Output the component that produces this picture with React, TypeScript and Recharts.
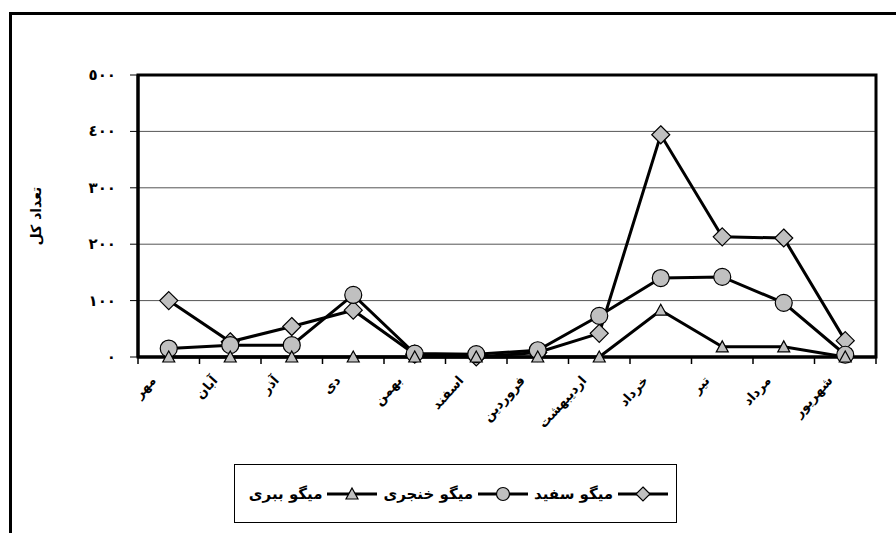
import React from 'react';
import { LineChart, Line, XAxis, YAxis, CartesianGrid, ReferenceArea } from 'recharts';

const months = ['مهر', 'آبان', 'آذر', 'دی', 'بهمن', 'اسفند', 'فروردین', 'اردیبهشت', 'خرداد', 'تیر', 'مرداد', 'شهریور'];
const whiteShrimp = [100, 27, 54, 83, 5, 0, 8, 42, 394, 213, 211, 29];
const khanjariShrimp = [15, 21, 21, 110, 6, 5, 12, 73, 140, 142, 96, 4];
const babriShrimp = [0, 0, 0, 0, 0, 0, 0, 0, 83, 18, 18, 0];
const yTicks = [0, 100, 200, 300, 400, 500];
// boundary ticks (integers) draw tick marks, centre ticks (x.5) carry month labels
const xTicks = Array.from({ length: 25 }, (_, i) => i / 2);
const seriesNames = { white: 'میگو سفید', khanjari: 'میگو خنجری', babri: 'میگو ببری' };

const data = months.map((m, i) => ({
  x: i + 0.5,
  month: m,
  white: whiteShrimp[i],
  khanjari: khanjariShrimp[i],
  babri: babriShrimp[i],
}));

const FONT = '"DejaVu Sans", sans-serif';
const FILL = '#c0c0c0';

const toArabicDigits = (n: number) =>
  String(n).replace(/[0-9]/g, (d) => String.fromCharCode(0x0660 + Number(d)));

const DiamondDot = (props: any) => {
  const { cx, cy, s = 9 } = props;
  if (cx == null || cy == null) return null;
  return (
    <path
      d={`M${cx},${cy - s} L${cx + s},${cy} L${cx},${cy + s} L${cx - s},${cy} Z`}
      fill={FILL}
      stroke="#000"
      strokeWidth={1.2}
    />
  );
};

const CircleDot = (props: any) => {
  const { cx, cy } = props;
  if (cx == null || cy == null) return null;
  return <circle cx={cx} cy={cy} r={8.5} fill={FILL} stroke="#000" strokeWidth={1.2} />;
};

const TriangleDot = (props: any) => {
  const { cx, cy } = props;
  if (cx == null || cy == null) return null;
  const w = 6;
  const h = 10;
  return (
    <path
      d={`M${cx},${cy - h / 2 - 1} L${cx + w},${cy + h / 2} L${cx - w},${cy + h / 2} Z`}
      fill={FILL}
      stroke="#000"
      strokeWidth={1.2}
    />
  );
};

const YTick = (props: any) => {
  const { x, y, payload } = props;
  return (
    <text x={x} y={y} dy={5} textAnchor="end" fontFamily={FONT} fontWeight="bold" fontSize={15} fill="#000">
      {toArabicDigits(payload.value)}
    </text>
  );
};

const XTick = (props: any) => {
  const { x, y, payload } = props;
  const v = Number(payload.value);
  if (Math.abs(v - Math.round(v)) < 1e-6) {
    return (
      <g>
        <line x1={x} y1={y} x2={x} y2={y + 7} stroke="#000" strokeWidth={1.5} />
      </g>
    );
  }
  const idx = Math.floor(v);
  const ax = x - 12;
  const ay = y + 24;
  return (
    <text
      x={ax}
      y={ay}
      transform={`rotate(-48, ${ax}, ${ay})`}
      textAnchor="end"
      fontFamily={FONT}
      fontWeight="bold"
      fontSize={13}
      fill="#000"
    >
      {months[idx]}
    </text>
  );
};

const LegendMarker = ({ kind }: { kind: string }) => (
  <svg width={50} height={20} style={{ display: 'block', flexShrink: 0 }}>
    <line x1={0} y1={10} x2={50} y2={10} stroke="#000" strokeWidth={3} />
    {kind === 'diamond' && <DiamondDot cx={25} cy={10} s={7} />}
    {kind === 'circle' && <circle cx={25} cy={10} r={6.5} fill={FILL} stroke="#000" strokeWidth={1.2} />}
    {kind === 'triangle' && <TriangleDot cx={25} cy={10} />}
  </svg>
);

const legendItems = [
  { name: seriesNames.white, kind: 'diamond' },
  { name: seriesNames.khanjari, kind: 'circle' },
  { name: seriesNames.babri, kind: 'triangle' },
];

export default function App() {
  return (
    <div style={{ position: 'absolute', left: 0, top: 0, width: 896, height: 533, background: '#fff' }}>
      <LineChart width={896} height={533} data={data} margin={{ top: 75, right: 20, bottom: 0, left: 0 }}>
        <CartesianGrid vertical={false} stroke="#555" strokeWidth={1} />
        <XAxis
          type="number"
          dataKey="x"
          domain={[0, 12]}
          ticks={xTicks}
          tick={XTick}
          tickLine={false}
          tickSize={0}
          tickMargin={0}
          interval={0}
          height={176}
          axisLine={{ stroke: '#000', strokeWidth: 3 }}
        />
        <YAxis
          type="number"
          domain={[0, 500]}
          ticks={yTicks}
          width={138}
          tickSize={8}
          tickMargin={14}
          tick={YTick}
          axisLine={{ stroke: '#000', strokeWidth: 3 }}
          tickLine={{ stroke: '#000', strokeWidth: 1 }}
          interval={0}
          label={{
            value: 'تعداد کل',
            angle: -90,
            position: 'insideLeft',
            offset: 36,
            style: { fontFamily: FONT, fontWeight: 'bold', fontSize: 14, fill: '#000', textAnchor: 'middle' },
          }}
        />
        <ReferenceArea x1={0} x2={12} y1={0} y2={500} fill="none" stroke="#000" strokeWidth={3} ifOverflow="visible" />
        <Line dataKey="white" name={seriesNames.white} stroke="#000" strokeWidth={3} dot={DiamondDot} isAnimationActive={false} />
        <Line dataKey="khanjari" name={seriesNames.khanjari} stroke="#000" strokeWidth={3} dot={CircleDot} isAnimationActive={false} />
        <Line dataKey="babri" name={seriesNames.babri} stroke="#000" strokeWidth={3} dot={TriangleDot} isAnimationActive={false} />
      </LineChart>
      <div
        style={{
          position: 'absolute',
          left: 9,
          top: 12,
          width: 884,
          height: 518,
          borderTop: '3px solid #000',
          borderLeft: '3px solid #000',
          pointerEvents: 'none',
        }}
      />
      <div
        style={{
          position: 'absolute',
          left: 234,
          top: 464,
          width: 443,
          height: 59,
          border: '1px solid #000',
          background: '#fff',
          display: 'flex',
          alignItems: 'center',
          justifyContent: 'center',
          direction: 'rtl',
          fontFamily: FONT,
          fontWeight: 'bold',
          fontSize: 15,
          boxSizing: 'border-box',
          whiteSpace: 'nowrap',
        }}
      >
        {legendItems.map((it) => (
          <div key={it.name} style={{ display: 'flex', alignItems: 'center', marginLeft: 6, flexShrink: 0 }}>
            <LegendMarker kind={it.kind} />
            <span style={{ marginRight: 5 }}>{it.name}</span>
          </div>
        ))}
      </div>
    </div>
  );
}
